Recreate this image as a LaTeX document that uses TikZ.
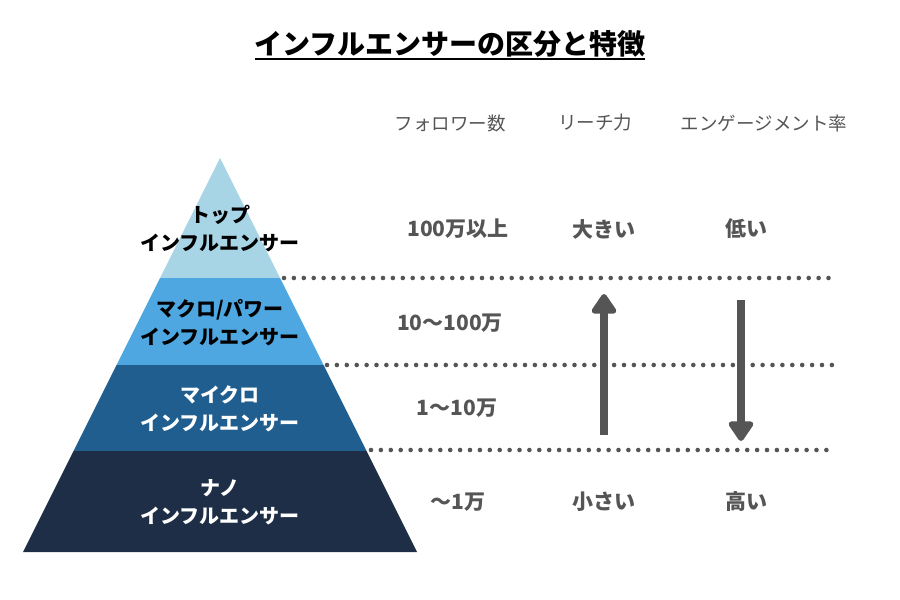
\documentclass[tikz,border=0pt]{standalone}
\usepackage{fontspec}
\setmainfont{Noto Sans CJK JP}
\usetikzlibrary{arrows.meta}

\definecolor{tierA}{HTML}{A8D5E6}
\definecolor{tierB}{HTML}{4EA7E0}
\definecolor{tierC}{HTML}{1F5E8F}
\definecolor{tierD}{HTML}{1E2E46}
\definecolor{ink}{HTML}{555555}

\begin{document}
\begin{tikzpicture}[
    x=1pt, y=-1pt, >=Stealth,
    tierlabel/.style={align=center, font=\fontsize{20}{28}\selectfont\bfseries, inner sep=0pt},
    colhead/.style={text=ink, font=\fontsize{18.5}{22}\selectfont, inner sep=0pt},
    cellval/.style={text=ink, font=\fontsize{21}{24}\selectfont\bfseries, inner sep=0pt},
    sep/.style={ink, line width=4.6pt, line cap=round, dash pattern=on 0pt off 9.9pt},
    trend/.style={ink, line width=7.5pt, -{Triangle[width=28pt,length=22pt,round]}}
  ]
  \useasboundingbox (0,0) rectangle (900,600);

  \node[font=\fontsize{28}{32}\selectfont\bfseries, inner sep=0pt] (title) at (450,44) {インフルエンサーの区分と特徴};
  \draw[line width=2pt] (255,59) -- (645,59);

  \fill[tierA] (220,158) -- (280,278) -- (160,278) -- cycle;
  \fill[tierB] (160,278) -- (280,278) -- (323.5,365) -- (116.5,365) -- cycle;
  \fill[tierC] (116.5,365) -- (323.5,365) -- (366.5,451) -- (73.5,451) -- cycle;
  \fill[tierD] (73.5,451) -- (366.5,451) -- (417,552) -- (23,552) -- cycle;

  \node[tierlabel] (top) at (220,229) {トップ\\インフルエンサー};
  \node[tierlabel] (macro) at (220,323) {マクロ/パワー\\インフルエンサー};
  \node[tierlabel, text=white] (micro) at (220,409) {マイクロ\\インフルエンサー};
  \node[tierlabel, text=white] (nano) at (220,502) {ナノ\\インフルエンサー};

  \node[colhead] (hfollow) at (450,123) {フォロワー数};
  \node[colhead] (hreach) at (595,123) {リーチ力};
  \node[colhead] (hengage) at (764,123) {エンゲージメント率};

  \node[cellval] (f1) at (458,229) {100万以上};
  \node[cellval] (r1) at (604,229) {大きい};
  \node[cellval] (e1) at (746,229) {低い};
  \node[cellval] (f2) at (450,323) {10〜100万};
  \node[cellval] (f3) at (457,408) {1〜10万};
  \node[cellval] (f4) at (458,502) {〜1万};
  \node[cellval] (r4) at (604,502) {小さい};
  \node[cellval] (e4) at (746,502) {高い};

  \coordinate (s1a) at (284,278);  \coordinate (s1b) at (836,278);
  \coordinate (s2a) at (327,365);  \coordinate (s2b) at (838,365);
  \coordinate (s3a) at (371,450);  \coordinate (s3b) at (834,450);
  \draw[sep] (s1a) -- (s1b);
  \draw[sep] (s2a) -- (s2b);
  \draw[sep] (s3a) -- (s3b);

  \coordinate (up0) at (604,435);  \coordinate (up1) at (604,294);
  \coordinate (dn0) at (741,300);  \coordinate (dn1) at (741,441);
  \draw[trend] (up0) -- (up1);
  \draw[trend] (dn0) -- (dn1);
\end{tikzpicture}
\end{document}
